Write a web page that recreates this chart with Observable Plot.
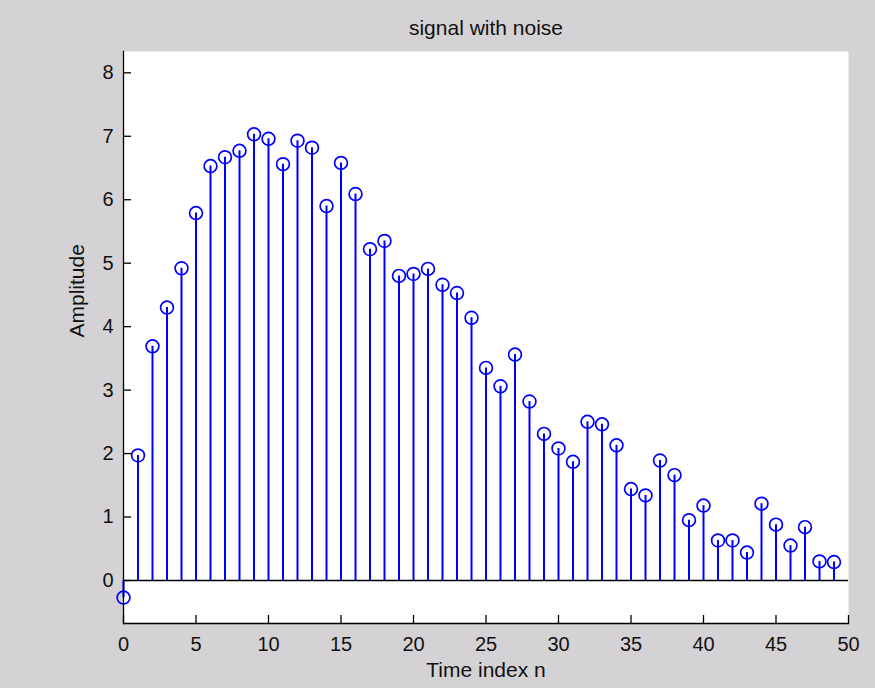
<!DOCTYPE html>
<html>
<head>
<meta charset="utf-8">
<script src="https://cdn.jsdelivr.net/npm/d3@7"></script>
<script src="https://cdn.jsdelivr.net/npm/@observablehq/plot@0.6"></script>
<style>
  html, body { margin: 0; padding: 0; background: #d4d2d4; }
  #chart svg { display: block; }
</style>
</head>
<body>
<div id="chart"></div>
<script>
// Time index n
const timeIndex = [0,1,2,3,4,5,6,7,8,9,10,11,12,13,14,15,16,17,18,19,20,21,22,23,24,25,26,27,28,29,30,31,32,33,34,35,36,37,38,39,40,41,42,43,44,45,46,47,48,49];
// Amplitude (signal with noise)
const amplitude = [-0.27,1.97,3.69,4.30,4.92,5.79,6.53,6.67,6.77,7.03,6.96,6.56,6.93,6.82,5.90,6.58,6.09,5.22,5.35,4.80,4.83,4.91,4.66,4.53,4.14,3.35,3.06,3.56,2.82,2.31,2.08,1.87,2.50,2.46,2.13,1.44,1.34,1.89,1.66,0.95,1.18,0.63,0.63,0.44,1.21,0.88,0.55,0.84,0.30,0.29];
const xTicks = [0,5,10,15,20,25,30,35,40,45,50];
const yTicks = [0,1,2,3,4,5,6,7,8];
const titleText = "signal with noise";
const xLabel = "Time index n";
const yLabel = "Amplitude";

const data = timeIndex.map((n, i) => ({n, v: amplitude[i]}));

const W = 875, H = 688, ML = 123, MR = 27, MT = 51, MB = 65;
const frameW = W - ML - MR, frameH = H - MT - MB, tickLen = 8;

const chart = Plot.plot({
  width: W, height: H,
  marginLeft: ML, marginRight: MR, marginTop: MT, marginBottom: MB,
  style: {background: "#d4d2d4", fontFamily: "'Liberation Sans', Arial, sans-serif", fontSize: "20px", color: "#111"},
  x: {domain: [0, 50]},
  y: {domain: [-0.678, 8.336]},
  marks: [
    Plot.frame({fill: "white", stroke: "none"}),
    Plot.ruleY([0], {stroke: "black", strokeWidth: 1.3}),
    Plot.ruleX(data, {x: "n", y1: 0, y2: "v", stroke: "#0000ff", strokeWidth: 2}),
    Plot.dot(data, {x: "n", y: "v", r: 6.4, stroke: "#0000ff", fill: "none", strokeWidth: 1.7}),
    Plot.frame({anchor: "left", stroke: "black", strokeWidth: 1.3}),
    Plot.frame({anchor: "bottom", stroke: "black", strokeWidth: 1.3}),
    Plot.tickX(xTicks, {x: d => d, insetTop: frameH - tickLen, stroke: "black", strokeWidth: 1.3}),
    Plot.tickY(yTicks, {y: d => d, insetRight: frameW - tickLen, stroke: "black", strokeWidth: 1.3}),
    Plot.axisX({ticks: xTicks, tickSize: 0, tickPadding: 13, label: null, fontSize: 20}),
    Plot.axisY({ticks: yTicks, tickSize: 0, tickPadding: 10, label: null, fontSize: 20}),
    Plot.text([titleText], {frameAnchor: "top", dy: -31, fontSize: 21, fill: "#111"}),
    Plot.text([xLabel], {frameAnchor: "bottom", dy: 53, fontSize: 21, fill: "#111"}),
    Plot.text([yLabel], {frameAnchor: "left", dx: -46, rotate: -90, fontSize: 21, fill: "#111"})
  ]
});
document.getElementById("chart").appendChild(chart);
</script>
</body>
</html>
